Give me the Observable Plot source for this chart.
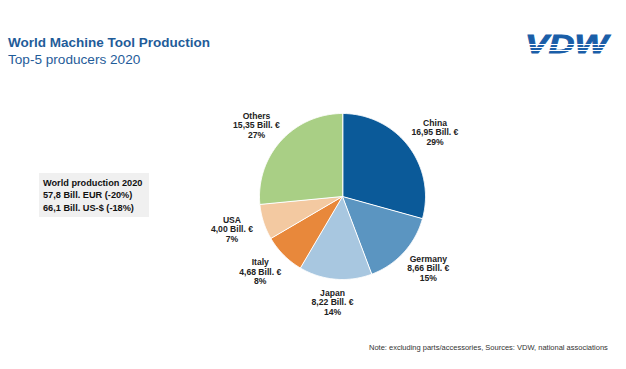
<!DOCTYPE html>
<html><head><meta charset="utf-8">
<script src="https://cdn.jsdelivr.net/npm/d3@7"></script>
<script src="https://cdn.jsdelivr.net/npm/@observablehq/plot@0.6"></script>
<style>
body{margin:0;width:626px;height:369px;position:relative;background:#fff;font-family:"Liberation Sans",Arial,sans-serif;overflow:hidden}
#title{position:absolute;left:8px;top:35px;font-size:13.5px;font-weight:bold;color:#1f5c99;white-space:nowrap}
#subtitle{position:absolute;left:8px;top:52px;font-size:13.6px;color:#1f5c99;white-space:nowrap}
#logo{position:absolute;left:520px;top:30px}
#box{position:absolute;left:39px;top:173px;width:110px;height:44px;background:#f0f0f0;font-size:9.2px;font-weight:bold;color:#111;line-height:12.3px;padding:4px 0 0 4px;box-sizing:border-box;white-space:nowrap}
#note{position:absolute;left:369px;top:343px;font-size:7.5px;color:#333;white-space:nowrap}
#chart{position:absolute;left:182px;top:66px}
</style></head><body>
<div id="title">World Machine Tool Production</div>
<div id="subtitle">Top-5 producers 2020</div>
<svg id="logo" width="95" height="30">
  <text x="5" y="23" font-size="25" font-weight="bold" font-style="italic" fill="#1a5ea8" stroke="#1a5ea8" stroke-width="0.8" textLength="83" lengthAdjust="spacingAndGlyphs" font-family="Liberation Sans, Arial, sans-serif">VDW</text>
  <line x1="0" x2="95" y1="14.5" y2="14.5" stroke="#fff" stroke-width="1"/>
  <line x1="0" x2="95" y1="17.5" y2="17.5" stroke="#fff" stroke-width="1"/>
  <line x1="0" x2="95" y1="20.5" y2="20.5" stroke="#fff" stroke-width="1"/>
</svg>
<div id="box">World production 2020<br>57,8 Bill. EUR (-20%)<br>66,1 Bill. US-$ (-18%)</div>
<div id="note">Note: excluding parts/accessories, Sources: VDW, national associations</div>
<div id="chart"></div>
<script>
const countries = ["China", "Germany", "Japan", "Italy", "USA", "Others"];
const values = [16.95, 8.66, 8.22, 4.68, 4.00, 15.35];
const valueLabels = ["16,95 Bill. €", "8,66 Bill. €", "8,22 Bill. €", "4,68 Bill. €", "4,00 Bill. €", "15,35 Bill. €"];
const shares = ["29%", "15%", "14%", "8%", "7%", "27%"];
const colors = ["#0b5a99", "#5b95c1", "#a8c7e0", "#e8883b", "#f3c9a1", "#a9cf85"];

const rows = countries.map((name, i) => ({name, value: values[i], label: `${name}\n${valueLabels[i]}\n${shares[i]}`}));
const arcs = d3.pie().sort(null).value(d => d.value)(rows);

const pts = [];
for (const a of arcs) {
  pts.push({name: a.data.name, x: 0, y: 0});
  const n = Math.max(2, Math.ceil((a.endAngle - a.startAngle) / 0.01));
  for (let k = 0; k <= n; k++) {
    const t = a.startAngle + (a.endAngle - a.startAngle) * k / n;
    pts.push({name: a.data.name, x: Math.sin(t), y: Math.cos(t)});
  }
}
const labels = arcs.map(a => {
  const m = (a.startAngle + a.endAngle) / 2;
  return {label: a.data.label, x: 1.4 * Math.sin(m), y: 1.28 * Math.cos(m)};
});

const R = 83, W = 320, H = 260;
const chart = Plot.plot({
  width: W, height: H, margin: 0,
  style: {fontFamily: "Liberation Sans, Arial, sans-serif", background: "transparent"},
  x: {domain: [-W / 2 / R, W / 2 / R], axis: null},
  y: {domain: [-H / 2 / R, H / 2 / R], axis: null},
  color: {domain: countries, range: colors},
  marks: [
    Plot.line(pts, {x: "x", y: "y", z: "name", fill: "name", stroke: "white", strokeWidth: 1, curve: "linear-closed"}),
    Plot.text(labels, {x: "x", y: "y", text: "label", fontSize: 8.6, fontWeight: "bold", fill: "#222", lineHeight: 1.12})
  ]
});
document.getElementById("chart").appendChild(chart);
</script>
</body></html>
